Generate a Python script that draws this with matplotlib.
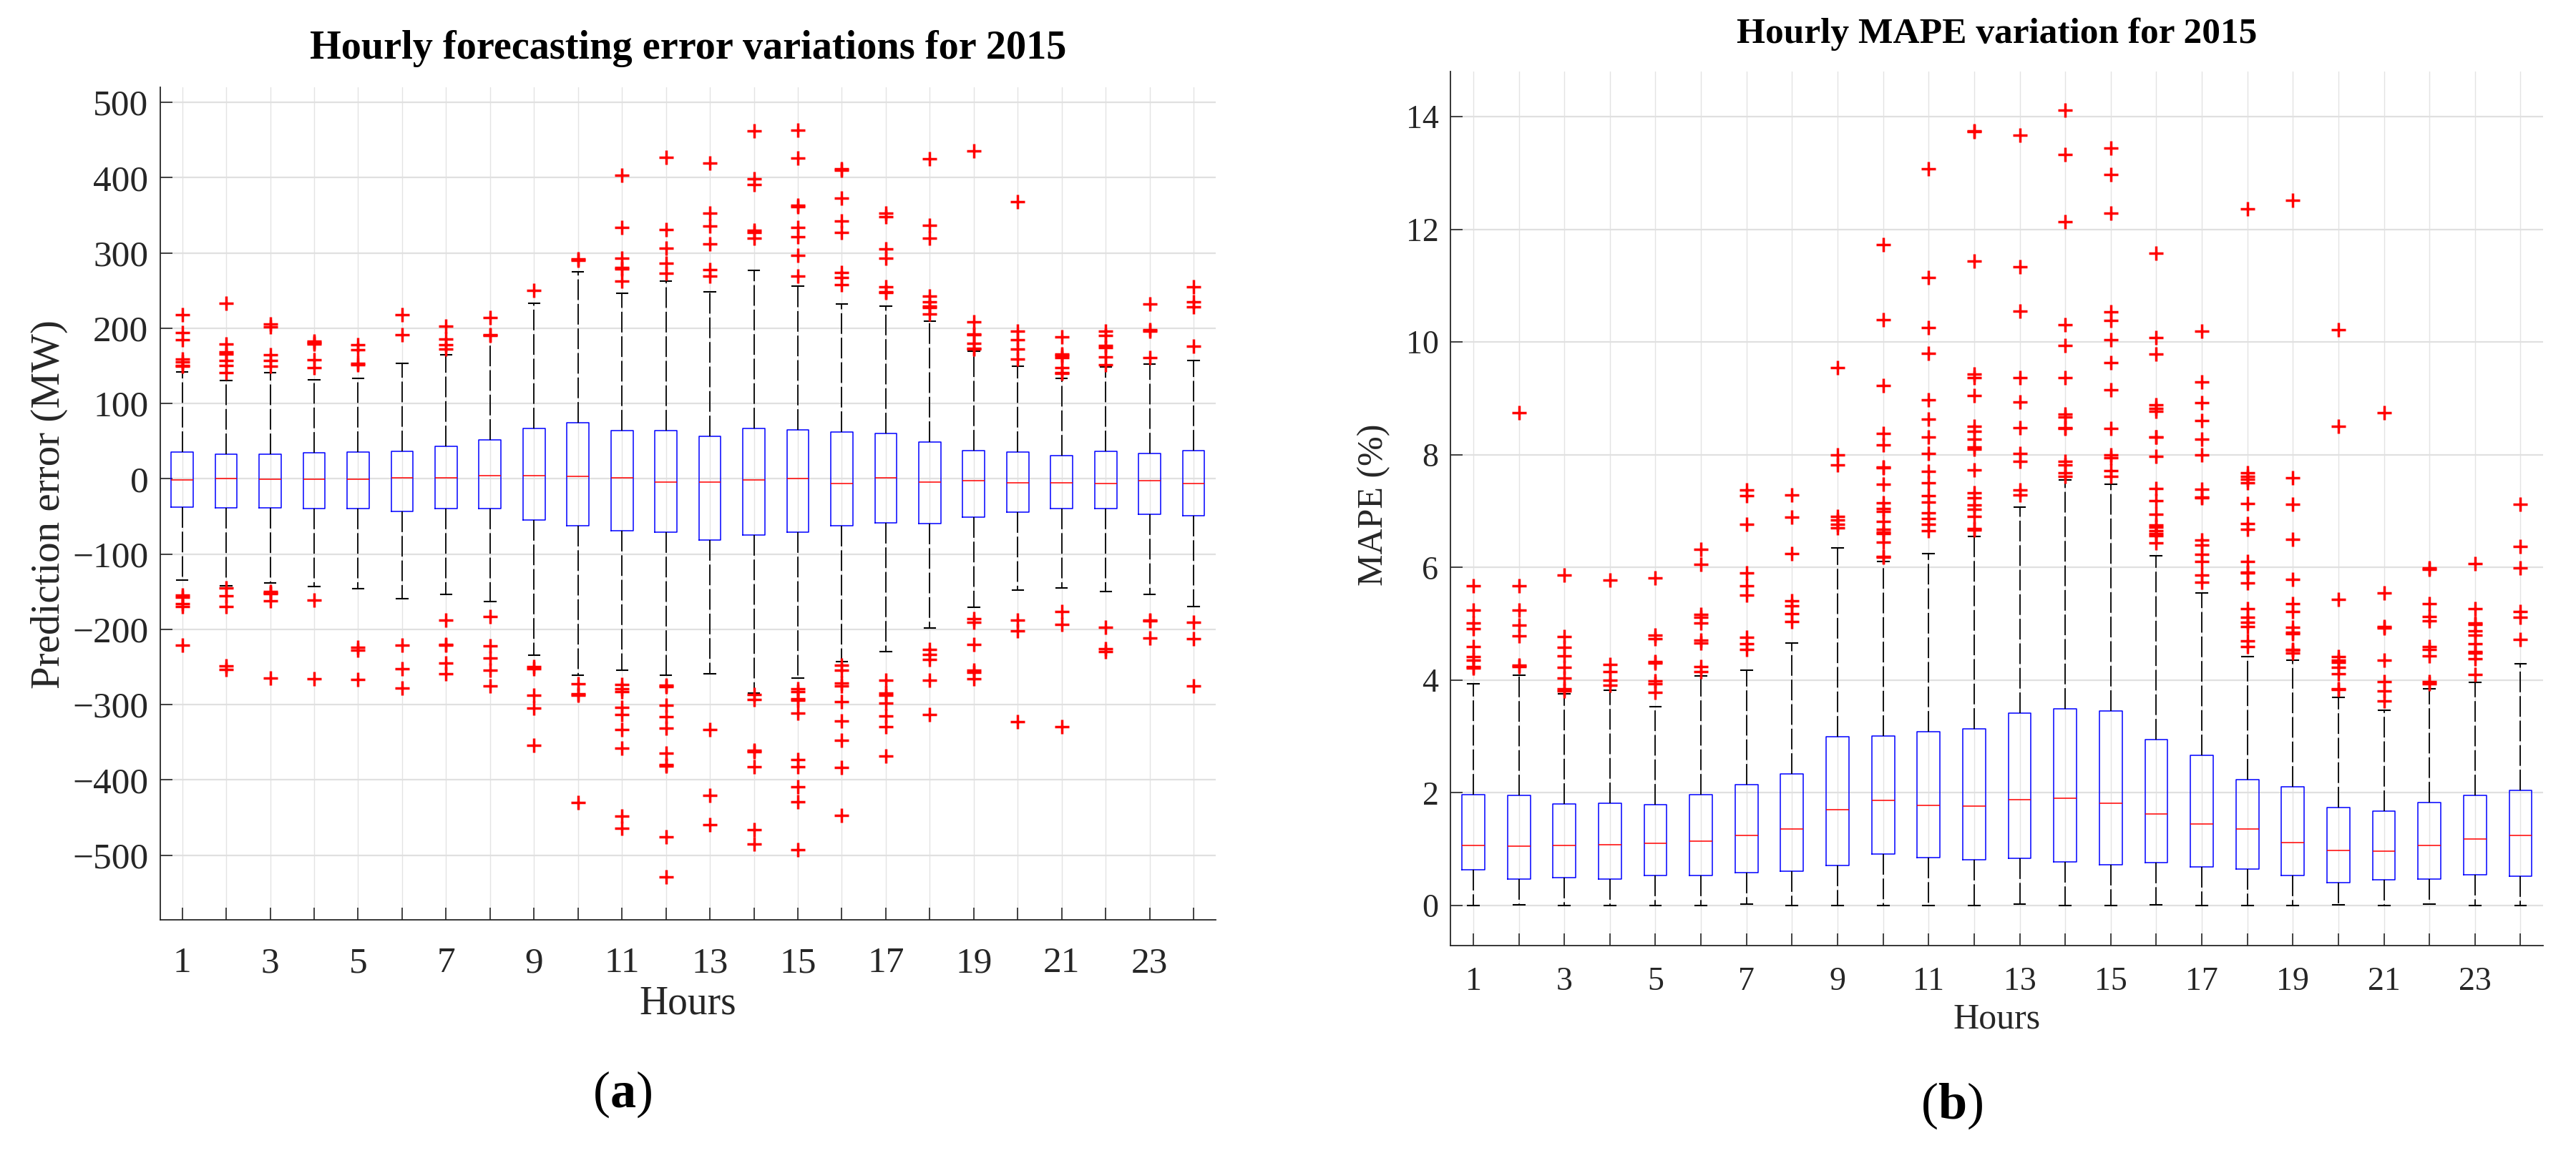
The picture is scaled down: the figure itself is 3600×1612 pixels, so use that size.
import numpy as np
import matplotlib.pyplot as plt

plt.rcParams['font.family'] = 'Liberation Serif'
plt.rcParams['mathtext.fontset'] = 'custom'
plt.rcParams['mathtext.rm'] = 'Liberation Serif'
plt.rcParams['mathtext.bf'] = 'Liberation Serif:bold'

hours = np.arange(1, 25)

# (a) hourly forecasting error, MW
med_err = [-1.5, 0.5, -0.5, -0.5, -0.5, 1, 1, 4, 4, 3, 1.5, -4, -4, -1.5, 0, -6, 1, -4, -3, -5, -5, -6, -3, -6]
q1_err = [-38, -38.5, -39, -40, -40, -43, -40, -40, -55, -62, -69, -71, -81, -75, -71, -62, -59, -60, -51, -44, -40, -40, -47, -49]
q3_err = [35, 33, 33, 34.6, 35, 36, 43, 52, 67, 74, 64, 64, 56, 67, 65, 62.5, 60, 48.5, 37.5, 35.5, 31, 36, 34, 37.5]
lo_err = [-135, -142, -138, -143, -145.6, -159.7, -154, -163.4, -234, -260.6, -254, -260.6, -258.75, -284.4,
          -265, -243.4, -229.4, -198, -171, -147.5, -145, -150.3, -154, -170]
hi_err = [142, 130, 141, 131.6, 133, 153.4, 165, 189.7, 233, 274.7, 246, 262.8, 248.75, 276.6, 255.6, 232.5,
          229.7, 209, 169, 149, 133.4, 148.4, 152.2, 156.6]
fliers_err = [
    [218, 194, 185, 159, 155, 150, 149, -155, -157, -166, -170, -221],
    [233, 179, 168, 166, 157, 150, 141, -145, -156, -170, -249, -253],
    [206, 202, 165, 157, 149, -150, -152, -153, -162, -265],
    [183, 181, 179, 158, 148, -161, -266],
    [178, 171, 153, 151, -224, -228, -267],
    [218, 191, -221, -252, -278],
    [203, 186, 178, 172, -188, -220, -221, -245, -259],
    [214, 191, 190, -183, -222, -238, -254, -275],
    [250, -250, -252, -288, -305, -354],
    [292, 290, -272, -286, -288, -430],
    [403, 334, 293, 281, 279, 263, -273, -279, -283, -304, -313, -333, -358, -448, -464],
    [427, 331, 306, 286, 273, -274, -276, -301, -316, -331, -365, -380, -382, -476, -529],
    [419, 353, 336, 312, 278, 269, -333, -421, -460],
    [462, 398, 391, 330, 327, 320, -287, -293, -361, -363, -383, -466, -485],
    [463, 426, 363, 361, 334, 321, 297, 269, -279, -283, -292, -294, -311, -373, -383, -409, -429, -493],
    [412, 410, 373, 342, 327, 274, 267, 258, -248, -254, -271, -275, -296, -322, -347, -384, -447],
    [353, 348, 305, 293, 255, 248, 247, -268, -285, -288, -298, -315, -329, -368],
    [425, 337, 320, 243, 235, 229, 227, 219, -227, -233, -240, -268, -313],
    [435, 208, 192, 191, 180, 173, 172, -186, -191, -220, -254, -257, -266],
    [368, 196, 185, 172, 159, -188, -202, -323],
    [188, 166, 164, 161, 148, 141, 140, -176, -194, -329],
    [196, 190, 177, 174, 162, 151, -197, -226, -230],
    [232, 198, 196, 161, -188, -189, -212],
    [255, 235, 228, 176, -191, -213, -275],
]

# (b) hourly MAPE, %
med_mape = [1.07, 1.06, 1.07, 1.08, 1.10, 1.14, 1.25, 1.36, 1.70, 1.87, 1.78, 1.77, 1.88, 1.91, 1.81, 1.62,
            1.45, 1.36, 1.12, 0.98, 0.96, 1.07, 1.18, 1.24]
q1_mape = [0.63, 0.47, 0.49, 0.47, 0.53, 0.53, 0.59, 0.61, 0.71, 0.91, 0.85, 0.81, 0.84, 0.78, 0.72, 0.76,
           0.68, 0.65, 0.53, 0.41, 0.46, 0.47, 0.55, 0.52]
q3_mape = [1.97, 1.95, 1.80, 1.82, 1.79, 1.97, 2.15, 2.34, 2.99, 3.01, 3.09, 3.14, 3.41, 3.49, 3.45, 2.95,
           2.66, 2.23, 2.11, 1.74, 1.67, 1.83, 1.96, 2.04]
lo_mape = [0, 0.01, 0, 0, 0, 0, 0.03, 0, 0, 0, 0, 0, 0.02, 0, 0, 0.01, 0, 0, 0, 0.01, 0, 0.03, 0, 0]
hi_mape = [3.94, 4.09, 3.76, 3.82, 3.53, 4.07, 4.17, 4.66, 6.35, 6.11, 6.24, 6.55, 7.07, 7.55, 7.47, 6.21,
           5.55, 4.42, 4.36, 3.70, 3.47, 3.84, 3.96, 4.29]
fliers_mape = [
    [5.68, 5.24, 5.01, 4.91, 4.60, 4.42, 4.36, 4.24, 4.22],
    [8.74, 5.68, 5.24, 4.98, 4.79, 4.27, 4.24],
    [5.87, 4.77, 4.58, 4.43, 4.23, 4.04, 3.84, 3.81],
    [5.77, 4.28, 4.15, 4.00, 3.91],
    [5.81, 4.80, 4.73, 4.33, 4.30, 3.98, 3.94, 3.78],
    [6.32, 6.06, 5.16, 5.11, 5.01, 4.71, 4.66, 4.24, 4.15],
    [7.38, 7.27, 6.77, 5.90, 5.68, 5.51, 4.76, 4.64, 4.54],
    [7.29, 6.89, 6.25, 5.41, 5.32, 5.18, 5.04],
    [9.54, 8.00, 7.82, 6.90, 6.84, 6.76, 6.70],
    [11.73, 10.40, 9.23, 8.38, 8.17, 7.78, 7.77, 7.47, 7.15, 7.04, 7.00, 6.81, 6.68, 6.62, 6.60, 6.45, 6.20, 6.18],
    [13.07, 11.15, 10.25, 9.80, 8.98, 8.63, 8.31, 8.02, 7.70, 7.50, 7.27, 7.16, 6.97, 6.87, 6.76, 6.65],
    [13.74, 13.73, 11.44, 9.43, 9.37, 9.05, 8.51, 8.42, 8.27, 8.14, 8.10, 7.73, 7.32, 7.23, 7.11, 7.03, 6.90,
     6.69, 6.66],
    [13.67, 11.34, 10.55, 9.37, 8.93, 8.48, 8.02, 7.88, 7.37, 7.28],
    [14.11, 13.33, 12.14, 10.31, 9.94, 9.37, 8.72, 8.67, 8.48, 8.46, 7.88, 7.82, 7.68, 7.61],
    [13.44, 12.97, 12.28, 10.53, 10.38, 10.04, 9.63, 9.15, 8.47, 8.00, 7.95, 7.72, 7.62],
    [11.57, 10.08, 9.78, 8.88, 8.82, 8.77, 8.32, 8.31, 7.97, 7.40, 7.19, 6.94, 6.75, 6.71, 6.65, 6.60, 6.56, 6.43],
    [10.19, 9.29, 8.92, 8.61, 8.27, 8.00, 7.39, 7.25, 7.23, 6.49, 6.40, 6.23, 6.11, 5.86, 5.74],
    [12.36, 7.68, 7.62, 7.56, 7.50, 7.13, 6.78, 6.68, 6.11, 5.92, 5.90, 5.73, 5.27, 5.11, 5.03, 4.95, 4.70, 4.60],
    [12.52, 7.59, 7.12, 6.50, 5.79, 5.36, 5.22, 4.94, 4.85, 4.82, 4.55, 4.53, 4.48],
    [10.22, 8.50, 5.43, 4.42, 4.36, 4.31, 4.23, 4.11, 3.85, 3.83],
    [8.74, 5.55, 4.95, 4.93, 4.36, 3.97, 3.81, 3.63],
    [5.99, 5.96, 5.36, 5.13, 5.05, 4.59, 4.55, 4.43, 3.97, 3.93],
    [6.07, 5.27, 5.02, 4.99, 4.88, 4.80, 4.64, 4.51, 4.48, 4.38, 4.10],
    [7.12, 6.37, 5.99, 5.22, 5.11, 4.72],
]

AXC = '#262626'


def draw_panel(ax, med, q1, q3, lo, hi, fl, tick_fs):
    stats = []
    for i in range(len(hours)):
        stats.append(dict(med=med[i], q1=q1[i], q3=q3[i], whislo=lo[i], whishi=hi[i],
                          fliers=np.array(fl[i])))
    ax.bxp(stats, positions=hours, widths=0.5, capwidths=0.25, manage_ticks=False,
           boxprops=dict(color='blue', lw=1.1),
           medianprops=dict(color='red', lw=1.1),
           whiskerprops=dict(color='black', lw=1.3, linestyle=(0, (16, 3))),
           capprops=dict(color='black', lw=1.5),
           flierprops=dict(marker='+', markeredgecolor='red', markersize=14,
                           markeredgewidth=2.5, linestyle='none'))
    ax.set_xlim(0.5, 24.5)
    ax.set_xticks(hours)
    ax.set_xticklabels([str(h) if h % 2 == 1 else '' for h in hours])
    ax.grid(True, axis='x', color='#e3e3e3', lw=1.0)
    ax.grid(True, axis='y', color='#e0e0e0', lw=1.6)
    ax.set_axisbelow(True)
    ax.spines['top'].set_visible(False)
    ax.spines['right'].set_visible(False)
    for s in ['left', 'bottom']:
        ax.spines[s].set_color(AXC)
        ax.spines[s].set_linewidth(1.3)
    ax.tick_params(direction='in', length=12, width=1.2, color=AXC, labelcolor=AXC,
                   labelsize=tick_fs)


fig = plt.figure(figsize=(36, 16.12), dpi=100)

ax1 = fig.add_axes([0.0622, 0.2022, 0.4097, 0.7221])
draw_panel(ax1, med_err, q1_err, q3_err, lo_err, hi_err, fliers_err, 37)
ax1.set_ylim(-586, 520)
ax1.set_yticks(np.arange(-500, 501, 100))
ax1.tick_params(axis='x', pad=27)
ax1.tick_params(axis='y', pad=12)
ax1.set_title('Hourly forecasting error variations for 2015', fontsize=40.5, fontweight='bold',
              y=1.039, va='center')
ax1.set_xlabel('Hours', fontsize=40, color=AXC)
ax1.xaxis.set_label_coords(0.5, -0.1005)
ax1.xaxis.label.set_va('center')
ax1.set_ylabel('Prediction error (MW)', fontsize=41, color=AXC)
ax1.yaxis.set_label_coords(-0.105, 0.499)
ax1.yaxis.label.set_va('center')

ax2 = fig.add_axes([0.5631, 0.1799, 0.4242, 0.7581])
draw_panel(ax2, med_mape, q1_mape, q3_mape, lo_mape, hi_mape, fliers_mape, 33)
ax2.set_ylim(-0.71, 14.8)
ax2.set_yticks(np.arange(0, 15, 2))
ax2.tick_params(axis='x', pad=21)
ax2.tick_params(axis='y', pad=12)
ax2.set_title('Hourly MAPE variation for 2015', fontsize=37, fontweight='bold',
              y=1.036, va='center')
ax2.set_xlabel('Hours', fontsize=36, color=AXC)
ax2.xaxis.set_label_coords(0.5, -0.0843)
ax2.xaxis.label.set_va('center')
ax2.set_ylabel('MAPE (%)', fontsize=36, color=AXC)
ax2.yaxis.set_label_coords(-0.070, 0.504)
ax2.yaxis.label.set_va('center')

fig.text(870 / 3600, 1 - 1530 / 1612, r'$(\mathbf{a})$', fontsize=52, ha='center', va='center')
fig.text(2728 / 3600, 1 - 1546 / 1612, r'$(\mathbf{b})$', fontsize=52, ha='center', va='center')

fig.savefig('out.png', dpi=100)
